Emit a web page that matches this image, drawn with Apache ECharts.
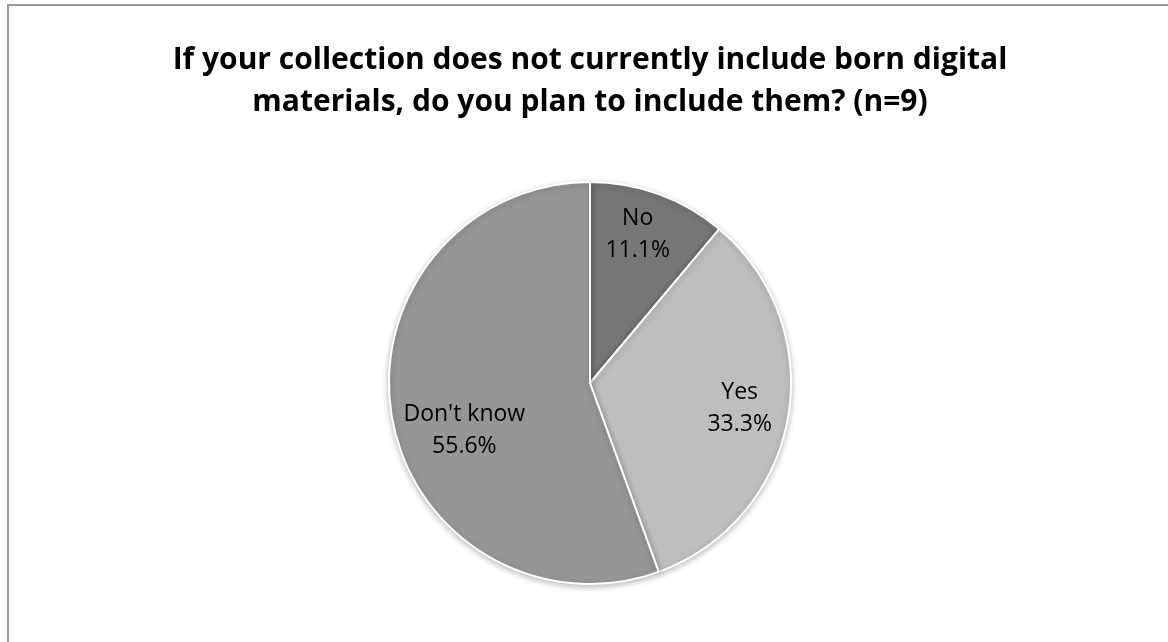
<!DOCTYPE html>
<html>
<head>
<meta charset="utf-8">
<script src="https://cdn.jsdelivr.net/npm/echarts@6/dist/echarts.min.js"></script>
<style>
html,body{margin:0;padding:0;background:#fff;width:1168px;height:642px;overflow:hidden;}
#frame{position:absolute;left:7px;top:4px;width:1300px;height:800px;border:2px solid #999;box-sizing:border-box;}
#chart{position:absolute;left:0;top:0;width:1168px;height:642px;}
</style>
</head>
<body>
<div id="frame"></div>
<div id="chart"></div>
<script>
const titleText = "If your collection does not currently include born digital\nmaterials, do you plan to include them? (n=9)";
const categories = ["No", "Yes", "Don't know"];
const counts = [1, 3, 5];
const colors = ["#777777", "#bebebe", "#969696"];
const labelOffsets = [[-5, -4], [-2, -1], [26, 21]];

const data = categories.map((c, i) => ({ name: c, value: counts[i], itemStyle: { color: colors[i] } }));

const chart = echarts.init(document.getElementById('chart'));
chart.setOption({
  animation: false,
  backgroundColor: 'transparent',
  title: {
    text: titleText,
    left: 585,
    textAlign: 'center',
    top: 34,
    textStyle: { fontFamily: 'Open Sans', fontWeight: 'bold', fontSize: 30, lineHeight: 42, color: '#000' }
  },
  series: [
    {
      type: 'pie',
      center: [590, 383],
      radius: [0, 201],
      startAngle: 90,
      clockwise: true,
      percentPrecision: 1,
      silent: true,
      label: { show: false },
      labelLine: { show: false },
      itemStyle: { borderColor: '#fff', borderWidth: 2, shadowBlur: 6, shadowColor: 'rgba(0,0,0,0.25)', shadowOffsetY: 2 },
      data: data
    },
    {
      type: 'pie',
      center: [590, 383],
      radius: [0, 302],
      startAngle: 90,
      clockwise: true,
      percentPrecision: 1,
      silent: true,
      z: 5,
      itemStyle: { color: 'rgba(0,0,0,0)', borderWidth: 0 },
      label: {
        show: true, position: 'inside', formatter: '{b}\n{d}%',
        fontFamily: 'Open Sans', fontSize: 23, lineHeight: 32, color: '#000', align: 'center'
      },
      labelLine: { show: false },
      data: categories.map((c, i) => ({ name: c, value: counts[i], label: { offset: labelOffsets[i] } }))
    }
  ]
});
</script>
</body>
</html>
